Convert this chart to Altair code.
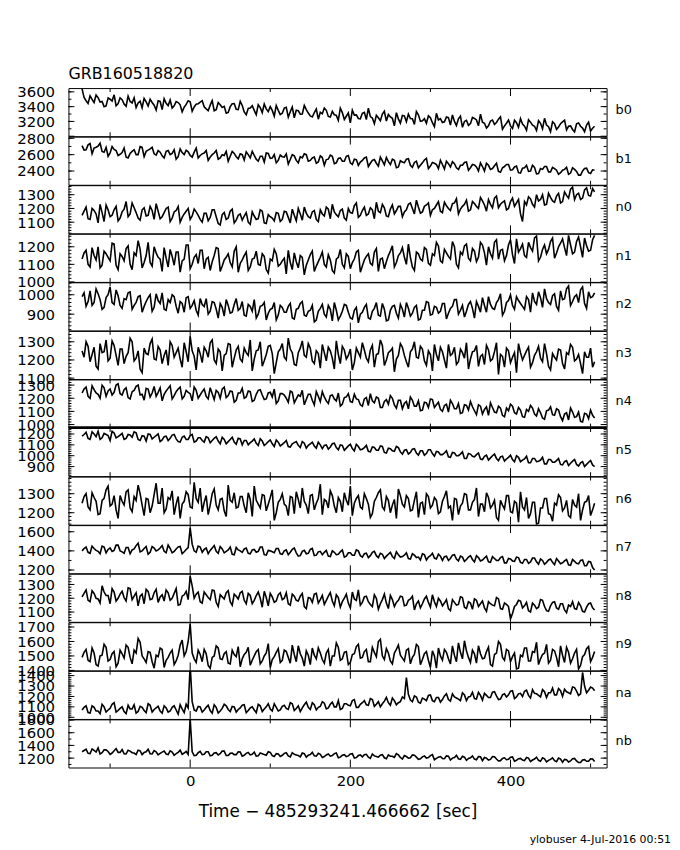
import altair as alt
import pandas as pd

FONT = "DejaVu Sans"
T_START = -135
T_STEP = 5
X_DOMAIN = [-152, 520]
X_LABELS = [0, 200, 400]
X_MINOR = [-100, 100, 300, 500]

DETECTORS = ["b0", "b1", "n0", "n1", "n2", "n3", "n4", "n5", "n6", "n7", "n8", "n9", "na", "nb"]

# samples at t = -135, -130, ..., 505
B0 = [3640, 3480, 3545, 3455, 3520, 3470, 3410, 3500, 3560, 3440,
      3495, 3405, 3470, 3520, 3450, 3385, 3465, 3500, 3420, 3480,
      3360, 3445, 3490, 3410, 3455, 3330, 3430, 3465, 3395, 3440,
      3480, 3370, 3420, 3345, 3455, 3390, 3310, 3400, 3440, 3360,
      3415, 3290, 3380, 3350, 3425, 3320, 3370, 3400, 3270, 3350,
      3310, 3390, 3330, 3250, 3345, 3300, 3360, 3275, 3320, 3230,
      3305, 3350, 3260, 3290, 3215, 3320, 3270, 3180, 3285, 3240,
      3310, 3225, 3265, 3170, 3250, 3300, 3205, 3260, 3140, 3235,
      3280, 3195, 3240, 3160, 3290, 3210, 3175, 3250, 3130, 3220,
      3185, 3260, 3150, 3200, 3235, 3120, 3215, 3170, 3240, 3140,
      3190, 3110, 3205, 3160, 3230, 3095, 3175, 3140, 3215, 3120,
      3165, 3080, 3190, 3135, 3210, 3100, 3150, 3060, 3170, 3125,
      3195, 3085, 3140, 3060, 3180, 3110, 3150, 3070, 3135]
B1 = [2710, 2660, 2735, 2680, 2705, 2640, 2690, 2620, 2665, 2590,
      2625, 2570, 2615, 2660, 2600, 2690, 2640, 2670, 2610, 2650,
      2585, 2640, 2600, 2660, 2575, 2625, 2655, 2590, 2630, 2560,
      2610, 2650, 2570, 2620, 2545, 2600, 2640, 2580, 2615, 2550,
      2600, 2635, 2560, 2590, 2520, 2580, 2620, 2555, 2600, 2530,
      2575, 2610, 2540, 2585, 2500, 2560, 2600, 2530, 2570, 2510,
      2565, 2540, 2595, 2490, 2555, 2520, 2580, 2500, 2545, 2470,
      2530, 2570, 2495, 2540, 2460, 2525, 2565, 2480, 2530, 2450,
      2510, 2545, 2470, 2505, 2440, 2500, 2555, 2460, 2495, 2430,
      2480, 2520, 2450, 2490, 2420, 2470, 2510, 2440, 2475, 2400,
      2455, 2495, 2420, 2465, 2395, 2440, 2480, 2410, 2450, 2380,
      2435, 2470, 2400, 2445, 2370, 2420, 2455, 2390, 2430, 2360,
      2410, 2445, 2375, 2420, 2350, 2400, 2435, 2370, 2410]
N0 = [1150, 1210, 1120, 1185, 1095, 1170, 1225, 1140, 1190, 1110,
      1175, 1250, 1160, 1205, 1130, 1190, 1145, 1215, 1120, 1180,
      1140, 1200, 1105, 1175, 1215, 1135, 1180, 1120, 1195, 1150,
      1100, 1165, 1135, 1190, 1090, 1155, 1120, 1180, 1095, 1150,
      1115, 1170, 1085, 1145, 1125, 1180, 1090, 1140, 1110, 1165,
      1120, 1175, 1095, 1150, 1200, 1115, 1165, 1130, 1185, 1105,
      1160, 1210, 1125, 1175, 1140, 1195, 1115, 1170, 1220, 1135,
      1185, 1150, 1205, 1125, 1180, 1230, 1145, 1195, 1160, 1215,
      1140, 1190, 1240, 1160, 1210, 1175, 1225, 1150, 1200, 1250,
      1170, 1220, 1185, 1240, 1160, 1215, 1260, 1190, 1235, 1200,
      1255, 1180, 1230, 1275, 1205, 1245, 1190, 1250, 1215, 1265,
      1105, 1225, 1270, 1210, 1255, 1300, 1230, 1280, 1245, 1310,
      1250, 1295, 1340, 1265, 1310, 1275, 1350, 1290, 1320]
N1 = [1130, 1180, 1085, 1150, 1200, 1095, 1160, 1120, 1215, 1070,
      1145, 1190, 1100, 1165, 1235, 1080, 1150, 1110, 1200, 1140,
      1060, 1135, 1185, 1095, 1170, 1120, 1210, 1075, 1140, 1105,
      1180, 1130, 1065, 1150, 1190, 1090, 1140, 1110, 1175, 1055,
      1125, 1170, 1085, 1135, 1100, 1160, 1070, 1130, 1185, 1090,
      1120, 1045, 1110, 1165, 1080, 1140, 1095, 1155, 1060, 1115,
      1170, 1085, 1125, 1050, 1140, 1100, 1160, 1075, 1130, 1180,
      1090, 1145, 1105, 1170, 1060, 1135, 1115, 1175, 1085, 1150,
      1195, 1100, 1140, 1065, 1160, 1120, 1185, 1095, 1150, 1205,
      1110, 1165, 1130, 1200, 1080, 1155, 1215, 1120, 1175, 1140,
      1210, 1095, 1160, 1225, 1130, 1185, 1150, 1240, 1105, 1170,
      1215, 1140, 1195, 1250, 1120, 1185, 1160, 1230, 1135, 1200,
      1245, 1150, 1210, 1170, 1255, 1140, 1205, 1180, 1265]
N2 = [990, 940, 1020, 960, 1005, 925, 985, 1040, 950, 995,
      930, 975, 1015, 945, 990, 910, 965, 1000, 935, 970,
      1010, 920, 960, 990, 905, 955, 985, 930, 970, 895,
      950, 980, 915, 960, 880, 935, 975, 905, 950, 920,
      965, 890, 940, 975, 900, 945, 870, 925, 960, 895,
      935, 910, 955, 875, 930, 965, 890, 920, 860, 915,
      950, 885, 925, 960, 870, 915, 945, 880, 920, 855,
      910, 950, 875, 930, 895, 955, 865, 920, 945, 880,
      925, 960, 890, 935, 870, 920, 965, 895, 940, 905,
      955, 875, 930, 975, 900, 945, 915, 965, 880, 940,
      985, 910, 950, 925, 975, 895, 960, 1000, 925, 970,
      940, 990, 910, 965, 1015, 935, 980, 950, 1005, 920,
      975, 1030, 945, 990, 960, 1040, 930, 985, 1010]
N3 = [1250, 1300, 1190, 1270, 1150, 1240, 1310, 1210, 1280, 1170,
      1260, 1220, 1320, 1195, 1250, 1130, 1235, 1290, 1205, 1275,
      1180, 1255, 1300, 1215, 1265, 1160, 1245, 1330, 1220, 1270,
      1185, 1250, 1295, 1200, 1260, 1140, 1235, 1285, 1210, 1275,
      1190, 1240, 1310, 1205, 1255, 1165, 1230, 1280, 1125, 1245,
      1290, 1200, 1260, 1175, 1240, 1305, 1215, 1265, 1180, 1235,
      1285, 1195, 1250, 1150, 1230, 1275, 1205, 1260, 1185, 1240,
      1295, 1210, 1255, 1160, 1235, 1280, 1200, 1250, 1135, 1225,
      1270, 1190, 1245, 1300, 1210, 1260, 1170, 1230, 1285, 1195,
      1245, 1155, 1225, 1270, 1190, 1240, 1295, 1205, 1250, 1165,
      1230, 1280, 1195, 1245, 1120, 1220, 1265, 1185, 1240, 1290,
      1200, 1250, 1160, 1225, 1275, 1190, 1235, 1145, 1215, 1260,
      1180, 1240, 1285, 1195, 1230, 1125, 1215, 1265, 1190]
N4 = [1240, 1285, 1200, 1265, 1230, 1300, 1215, 1270, 1245, 1310,
      1225, 1280, 1195, 1260, 1300, 1230, 1275, 1210, 1290, 1245,
      1180, 1255, 1295, 1220, 1270, 1195, 1260, 1235, 1285, 1200,
      1250, 1215, 1280, 1190, 1245, 1270, 1205, 1255, 1170, 1240,
      1275, 1210, 1250, 1185, 1260, 1225, 1195, 1245, 1270, 1180,
      1235, 1200, 1255, 1165, 1225, 1260, 1190, 1230, 1150, 1215,
      1250, 1180, 1220, 1195, 1240, 1155, 1210, 1175, 1230, 1190,
      1140, 1205, 1235, 1165, 1200, 1130, 1190, 1220, 1150, 1185,
      1120, 1175, 1210, 1140, 1180, 1110, 1165, 1195, 1130, 1170,
      1100, 1155, 1185, 1120, 1160, 1090, 1145, 1175, 1105, 1150,
      1080, 1135, 1165, 1095, 1140, 1070, 1125, 1155, 1090, 1130,
      1060, 1115, 1145, 1080, 1120, 1050, 1105, 1135, 1070, 1110,
      1030, 1090, 1125, 1055, 1095, 1020, 1080, 1110, 1050]
N5 = [1180, 1215, 1150, 1200, 1225, 1165, 1195, 1140, 1210, 1175,
      1205, 1160, 1190, 1220, 1150, 1185, 1135, 1195, 1170, 1200,
      1145, 1180, 1160, 1195, 1130, 1170, 1150, 1185, 1125, 1165,
      1140, 1175, 1120, 1160, 1135, 1170, 1110, 1150, 1125, 1160,
      1100, 1140, 1120, 1155, 1095, 1135, 1110, 1145, 1085, 1125,
      1105, 1140, 1080, 1120, 1095, 1130, 1070, 1110, 1090, 1125,
      1065, 1100, 1080, 1115, 1055, 1095, 1070, 1105, 1045, 1085,
      1060, 1095, 1035, 1075, 1050, 1085, 1025, 1065, 1040, 1075,
      1015, 1055, 1030, 1065, 1005, 1045, 1020, 1055, 995, 1035,
      1010, 1045, 985, 1025, 1000, 1035, 975, 1015, 990, 1025,
      965, 1005, 980, 1015, 955, 995, 970, 1005, 945, 985,
      960, 995, 935, 975, 950, 985, 925, 965, 940, 975,
      915, 955, 930, 965, 905, 945, 920, 955, 900]
N6 = [1250, 1300, 1215, 1280, 1190, 1265, 1320, 1235, 1290, 1170,
      1260, 1310, 1225, 1285, 1345, 1240, 1275, 1200, 1295, 1250,
      1330, 1220, 1270, 1190, 1285, 1245, 1310, 1230, 1360, 1255,
      1205, 1290, 1240, 1325, 1215, 1275, 1180, 1265, 1305, 1230,
      1285, 1200, 1270, 1340, 1245, 1295, 1210, 1280, 1160, 1255,
      1300, 1235, 1285, 1195, 1270, 1330, 1240, 1290, 1215, 1275,
      1190, 1260, 1315, 1235, 1280, 1205, 1265, 1340, 1250, 1290,
      1220, 1275, 1175, 1260, 1305, 1230, 1285, 1200, 1270, 1325,
      1245, 1290, 1210, 1265, 1175, 1255, 1300, 1225, 1280, 1195,
      1260, 1315, 1235, 1275, 1190, 1250, 1295, 1215, 1270, 1180,
      1245, 1305, 1225, 1265, 1160, 1240, 1290, 1205, 1260, 1150,
      1230, 1280, 1195, 1255, 1145, 1225, 1275, 1190, 1250, 1295,
      1210, 1265, 1175, 1240, 1300, 1215, 1260, 1185, 1250]
N7 = [1400, 1440, 1375, 1425, 1395, 1450, 1380, 1430, 1405, 1460,
      1390, 1435, 1370, 1420, 1480, 1400, 1445, 1385, 1430, 1410,
      1455, 1380, 1425, 1395, 1440, 1370, 1415, 1640, 1400, 1450,
      1385, 1430, 1405, 1455, 1375, 1420, 1395, 1440, 1360, 1410,
      1385, 1430, 1370, 1415, 1395, 1440, 1355, 1400, 1380, 1425,
      1365, 1410, 1385, 1430, 1345, 1395, 1370, 1415, 1350, 1390,
      1360, 1405, 1340, 1385, 1365, 1410, 1345, 1380, 1355, 1400,
      1335, 1375, 1350, 1395, 1330, 1365, 1345, 1385, 1320, 1360,
      1340, 1380, 1315, 1355, 1335, 1370, 1305, 1350, 1325, 1365,
      1300, 1345, 1320, 1360, 1295, 1335, 1310, 1350, 1285, 1330,
      1305, 1345, 1280, 1320, 1300, 1340, 1275, 1315, 1290, 1330,
      1270, 1310, 1285, 1325, 1260, 1300, 1280, 1315, 1255, 1295,
      1275, 1310, 1250, 1290, 1265, 1305, 1245, 1285, 1200]
N8 = [1210, 1260, 1175, 1235, 1195, 1290, 1220, 1160, 1245, 1200,
      1250, 1180, 1270, 1215, 1145, 1230, 1265, 1190, 1240, 1170,
      1225, 1260, 1185, 1235, 1150, 1215, 1250, 1360, 1200, 1245,
      1165, 1225, 1190, 1255, 1140, 1210, 1240, 1175, 1230, 1195,
      1250, 1160, 1220, 1185, 1245, 1135, 1205, 1235, 1170, 1225,
      1190, 1240, 1150, 1215, 1180, 1235, 1125, 1200, 1230, 1165,
      1220, 1185, 1240, 1145, 1205, 1175, 1230, 1130, 1195, 1260,
      1170, 1215, 1155, 1225, 1120, 1190, 1165, 1220, 1140, 1185,
      1210, 1150, 1195, 1115, 1180, 1160, 1215, 1135, 1175, 1200,
      1145, 1190, 1110, 1170, 1155, 1205, 1125, 1165, 1195, 1140,
      1180, 1105, 1160, 1145, 1195, 1120, 1155, 1050, 1140, 1185,
      1130, 1170, 1100, 1150, 1135, 1185, 1110, 1145, 1175, 1120,
      1160, 1095, 1140, 1125, 1170, 1105, 1135, 1165, 1115]
N9 = [1490, 1545, 1460, 1520, 1430, 1505, 1560, 1475, 1530, 1450,
      1515, 1575, 1490, 1540, 1620, 1500, 1455, 1525, 1415, 1495,
      1545, 1470, 1520, 1440, 1505, 1610, 1530, 1720, 1480, 1540,
      1460, 1515, 1415, 1500, 1555, 1475, 1530, 1445, 1510, 1565,
      1480, 1525, 1435, 1500, 1545, 1465, 1520, 1420, 1495, 1550,
      1470, 1530, 1450, 1510, 1570, 1485, 1535, 1440, 1505, 1555,
      1475, 1520, 1430, 1500, 1560, 1480, 1530, 1455, 1515, 1580,
      1490, 1545, 1460, 1525, 1600, 1500, 1550, 1465, 1520, 1575,
      1485, 1540, 1445, 1510, 1565, 1475, 1530, 1420, 1500, 1555,
      1470, 1525, 1445, 1505, 1590, 1480, 1535, 1455, 1515, 1570,
      1480, 1530, 1440, 1510, 1600, 1490, 1545, 1460, 1520, 1415,
      1495, 1555, 1465, 1525, 1440, 1510, 1580, 1470, 1535, 1425,
      1505, 1560, 1450, 1520, 1410, 1495, 1550, 1460, 1530]
NA = [1070, 1110, 1040, 1095, 1060, 1125, 1050, 1085, 1140, 1065,
      1100, 1035, 1080, 1120, 1055, 1095, 1045, 1115, 1075, 1105,
      1040, 1090, 1060, 1110, 1030, 1080, 1125, 1500, 1070, 1105,
      1050, 1095, 1065, 1120, 1040, 1085, 1110, 1055, 1100, 1075,
      1115, 1045, 1090, 1070, 1125, 1055, 1100, 1080, 1130, 1060,
      1105, 1085, 1140, 1065, 1110, 1090, 1145, 1075, 1120, 1095,
      1150, 1080, 1125, 1100, 1160, 1085, 1130, 1110, 1170, 1095,
      1140, 1120, 1180, 1105, 1150, 1130, 1190, 1115, 1160, 1140,
      1195, 1380, 1165, 1205, 1145, 1185, 1160, 1215, 1150, 1190,
      1170, 1225, 1155, 1195, 1175, 1235, 1160, 1200, 1180, 1240,
      1165, 1210, 1190, 1245, 1170, 1215, 1195, 1250, 1180, 1225,
      1200, 1260, 1185, 1230, 1210, 1265, 1190, 1235, 1215, 1275,
      1200, 1245, 1225, 1285, 1210, 1430, 1235, 1290, 1255]
NB = [1300, 1340, 1270, 1320, 1360, 1285, 1330, 1260, 1315, 1290,
      1335, 1265, 1310, 1280, 1325, 1255, 1300, 1270, 1320, 1250,
      1295, 1265, 1315, 1245, 1290, 1260, 1305, 1820, 1240, 1285,
      1255, 1300, 1235, 1280, 1250, 1310, 1240, 1275, 1255, 1300,
      1230, 1275, 1250, 1295, 1235, 1270, 1245, 1290, 1225, 1265,
      1245, 1285, 1220, 1260, 1240, 1280, 1215, 1255, 1235, 1275,
      1210, 1250, 1230, 1270, 1205, 1245, 1225, 1265, 1200, 1240,
      1220, 1260, 1195, 1235, 1215, 1255, 1190, 1230, 1210, 1250,
      1185, 1225, 1205, 1245, 1180, 1220, 1200, 1240, 1175, 1215,
      1195, 1235, 1170, 1210, 1190, 1230, 1165, 1205, 1185, 1225,
      1160, 1200, 1180, 1220, 1155, 1195, 1175, 1215, 1150, 1190,
      1170, 1210, 1145, 1185, 1165, 1205, 1140, 1180, 1160, 1200,
      1135, 1175, 1155, 1195, 1130, 1170, 1150, 1190, 1145]

# samples in between, at t = -132.5, -127.5, ..., 502.5
B0_MID = [3525, 3442, 3499, 3556, 3463, 3400, 3518, 3475, 3412, 3519,
          3436, 3543, 3450, 3387, 3474, 3512, 3409, 3456, 3353, 3470,
          3507, 3414, 3381, 3468, 3425, 3392, 3480, 3337, 3434, 3461,
          3398, 3345, 3482, 3359, 3426, 3404, 3321, 3438, 3365, 3472,
          3329, 3376, 3413, 3290, 3387, 3434, 3332, 3349, 3416, 3293,
          3380, 3257, 3394, 3351, 3298, 3416, 3313, 3260, 3367, 3324,
          3381, 3268, 3335, 3282, 3379, 3226, 3314, 3351, 3288, 3235,
          3322, 3379, 3246, 3283, 3210, 3338, 3295, 3242, 3319, 3176,
          3273, 3300, 3237, 3334, 3201, 3238, 3276, 3183, 3310, 3237,
          3194, 3251, 3288, 3145, 3272, 3200, 3147, 3254, 3221, 3298,
          3175, 3142, 3219, 3186, 3263, 3140, 3218, 3105, 3182, 3239,
          3136, 3223, 3150, 3077, 3174, 3242, 3129, 3196, 3093, 3170,
          3217, 3134, 3091, 3168, 3135, 3062, 3190, 3107]
B1_MID = [2655, 2720, 2610, 2690, 2740, 2630, 2580, 2700, 2650, 2605,
          2680, 2560, 2640, 2600, 2700, 2575, 2655, 2690, 2595, 2630,
          2560, 2650, 2615, 2545, 2670, 2600, 2635, 2570, 2680, 2590,
          2620, 2530, 2600, 2650, 2560, 2590, 2520, 2640, 2575, 2610,
          2535, 2600, 2640, 2545, 2580, 2510, 2615, 2560, 2500, 2595,
          2570, 2485, 2600, 2530, 2575, 2610, 2520, 2560, 2495, 2585,
          2470, 2545, 2580, 2500, 2560, 2520, 2590, 2480, 2540, 2510,
          2560, 2455, 2530, 2495, 2570, 2475, 2515, 2545, 2440, 2525,
          2500, 2550, 2445, 2520, 2470, 2535, 2430, 2505, 2480, 2530,
          2425, 2490, 2515, 2440, 2470, 2505, 2410, 2480, 2450, 2500,
          2400, 2470, 2430, 2495, 2385, 2455, 2480, 2415, 2460, 2375,
          2440, 2395, 2470, 2365, 2430, 2455, 2390, 2445, 2410, 2380,
          2420, 2360, 2440, 2395, 2350, 2430, 2380, 2415]
N0_MID = [1180, 1125, 1200, 1160, 1230, 1105, 1190, 1150, 1215, 1130,
          1195, 1140, 1240, 1170, 1115, 1205, 1150, 1185, 1235, 1125,
          1170, 1210, 1130, 1185, 1100, 1160, 1200, 1145, 1175, 1120,
          1165, 1110, 1190, 1140, 1080, 1170, 1130, 1195, 1115, 1160,
          1145, 1100, 1175, 1120, 1190, 1095, 1155, 1130, 1170, 1105,
          1180, 1135, 1195, 1110, 1160, 1210, 1140, 1175, 1120, 1190,
          1145, 1195, 1230, 1155, 1185, 1130, 1200, 1165, 1240, 1150,
          1210, 1160, 1190, 1245, 1170, 1205, 1140, 1225, 1185, 1215,
          1175, 1230, 1200, 1260, 1165, 1215, 1240, 1190, 1225, 1180,
          1245, 1200, 1235, 1270, 1195, 1230, 1180, 1250, 1215, 1280,
          1225, 1265, 1205, 1290, 1230, 1255, 1200, 1275, 1240, 1160,
          1250, 1285, 1230, 1300, 1265, 1225, 1310, 1255, 1290, 1240,
          1320, 1275, 1355, 1300, 1265, 1335, 1295, 1345]
N1_MID = [1165, 1100, 1195, 1125, 1080, 1175, 1140, 1220, 1095, 1160,
          1120, 1205, 1070, 1150, 1185, 1110, 1225, 1090, 1165, 1130,
          1195, 1085, 1145, 1170, 1055, 1130, 1210, 1100, 1155, 1180,
          1075, 1140, 1115, 1195, 1060, 1125, 1160, 1085, 1200, 1105,
          1150, 1065, 1130, 1175, 1095, 1145, 1050, 1120, 1160, 1100,
          1135, 1180, 1070, 1115, 1150, 1040, 1125, 1175, 1090, 1140,
          1100, 1155, 1065, 1130, 1185, 1080, 1145, 1110, 1170, 1055,
          1125, 1160, 1095, 1190, 1130, 1075, 1150, 1205, 1110, 1165,
          1140, 1215, 1085, 1170, 1130, 1195, 1105, 1160, 1225, 1120,
          1185, 1145, 1230, 1100, 1170, 1205, 1135, 1190, 1115, 1225,
          1165, 1200, 1135, 1240, 1180, 1120, 1210, 1155, 1245, 1190,
          1150, 1225, 1175, 1260, 1140, 1210, 1185, 1250, 1165, 1220,
          1195, 1265, 1160, 1230, 1200, 1250, 1175, 1240]
N2_MID = [1010, 965, 945, 1030, 975, 935, 1000, 960, 1025, 945,
          980, 1010, 925, 960, 995, 940, 985, 915, 1005, 955,
          925, 975, 1000, 940, 965, 910, 990, 945, 920, 980,
          940, 900, 965, 925, 955, 890, 945, 910, 980, 930,
          895, 950, 915, 880, 940, 960, 905, 930, 870, 945,
          910, 940, 880, 925, 955, 895, 915, 945, 870, 930,
          900, 945, 865, 920, 890, 950, 910, 875, 935, 900,
          935, 880, 915, 960, 890, 925, 870, 940, 905, 950,
          885, 930, 905, 945, 875, 920, 960, 900, 935, 915,
          955, 905, 940, 975, 920, 885, 950, 930, 965, 910,
          945, 990, 930, 960, 1005, 915, 970, 945, 990, 955,
          925, 975, 1010, 950, 985, 1030, 960, 995, 940, 1020,
          980, 1045, 965, 1000, 1025, 955, 1015, 990]
N3_MID = [1215, 1275, 1230, 1165, 1290, 1245, 1195, 1305, 1225, 1260,
          1180, 1240, 1300, 1210, 1150, 1265, 1230, 1315, 1200, 1255,
          1225, 1170, 1280, 1240, 1205, 1295, 1190, 1250, 1145, 1235,
          1270, 1215, 1310, 1180, 1245, 1225, 1290, 1160, 1255, 1205,
          1265, 1225, 1140, 1250, 1300, 1195, 1275, 1235, 1185, 1260,
          1215, 1320, 1240, 1170, 1265, 1225, 1290, 1195, 1250, 1155,
          1240, 1270, 1210, 1305, 1180, 1255, 1225, 1145, 1265, 1215,
          1255, 1190, 1280, 1230, 1310, 1170, 1240, 1265, 1205, 1290,
          1225, 1160, 1260, 1215, 1275, 1195, 1250, 1140, 1230, 1270,
          1200, 1285, 1235, 1175, 1260, 1210, 1150, 1245, 1280, 1220,
          1175, 1255, 1205, 1295, 1230, 1160, 1250, 1215, 1130, 1240,
          1225, 1270, 1185, 1245, 1210, 1290, 1165, 1235, 1200, 1255,
          1150, 1230, 1270, 1205, 1180, 1245, 1215, 1160]
N4_MID = [1270, 1215, 1295, 1240, 1200, 1280, 1255, 1225, 1300, 1235,
          1265, 1205, 1250, 1290, 1225, 1185, 1270, 1240, 1215, 1280,
          1230, 1275, 1195, 1250, 1285, 1215, 1245, 1180, 1260, 1225,
          1270, 1195, 1235, 1260, 1200, 1285, 1220, 1250, 1185, 1240,
          1200, 1255, 1175, 1230, 1265, 1190, 1240, 1210, 1160, 1235,
          1225, 1170, 1245, 1195, 1215, 1150, 1230, 1185, 1250, 1175,
          1210, 1160, 1225, 1180, 1140, 1205, 1235, 1170, 1195, 1150,
          1195, 1145, 1180, 1210, 1130, 1175, 1155, 1200, 1125, 1185,
          1160, 1120, 1185, 1140, 1105, 1170, 1130, 1190, 1150, 1115,
          1145, 1095, 1160, 1120, 1085, 1150, 1110, 1135, 1075, 1140,
          1115, 1070, 1130, 1090, 1125, 1060, 1105, 1140, 1080, 1110,
          1055, 1100, 1125, 1065, 1090, 1040, 1110, 1075, 1120, 1060,
          1080, 1035, 1095, 1060, 1025, 1085, 1045, 1070]
N5_MID = [1195, 1160, 1220, 1175, 1150, 1205, 1185, 1225, 1165, 1190,
          1150, 1195, 1170, 1210, 1140, 1180, 1200, 1155, 1185, 1130,
          1175, 1140, 1190, 1155, 1125, 1180, 1150, 1195, 1135, 1165,
          1125, 1165, 1140, 1175, 1110, 1150, 1130, 1170, 1105, 1155,
          1140, 1100, 1135, 1115, 1155, 1095, 1130, 1110, 1145, 1090,
          1120, 1085, 1110, 1130, 1075, 1115, 1095, 1125, 1070, 1100,
          1095, 1060, 1110, 1075, 1100, 1050, 1090, 1065, 1105, 1055,
          1075, 1040, 1080, 1050, 1090, 1030, 1070, 1045, 1085, 1035,
          1050, 1015, 1060, 1025, 1045, 1005, 1055, 1020, 1040, 1010,
          1025, 990, 1030, 1000, 1015, 975, 1020, 995, 1010, 970,
          995, 960, 1000, 975, 990, 950, 985, 965, 1000, 945,
          970, 935, 975, 945, 960, 925, 965, 940, 955, 920,
          945, 910, 950, 920, 935, 900, 940, 915]
N6_MID = [1285, 1230, 1305, 1260, 1195, 1275, 1340, 1245, 1215, 1290,
          1240, 1320, 1205, 1265, 1300, 1185, 1270, 1235, 1355, 1250,
          1200, 1280, 1315, 1245, 1170, 1260, 1295, 1225, 1275, 1330,
          1255, 1190, 1300, 1240, 1270, 1210, 1345, 1255, 1225, 1285,
          1235, 1305, 1180, 1265, 1225, 1290, 1245, 1320, 1200, 1270,
          1245, 1185, 1280, 1310, 1225, 1260, 1195, 1295, 1250, 1350,
          1270, 1225, 1290, 1200, 1260, 1305, 1240, 1185, 1275, 1230,
          1300, 1245, 1195, 1280, 1320, 1215, 1265, 1240, 1170, 1290,
          1230, 1275, 1215, 1310, 1250, 1190, 1285, 1240, 1265, 1205,
          1285, 1225, 1160, 1270, 1235, 1300, 1215, 1255, 1330, 1245,
          1205, 1280, 1240, 1175, 1265, 1220, 1290, 1200, 1250, 1310,
          1215, 1170, 1255, 1140, 1225, 1275, 1195, 1155, 1240, 1280,
          1225, 1185, 1270, 1230, 1160, 1255, 1290, 1215]
N7_MID = [1425, 1385, 1450, 1405, 1370, 1440, 1415, 1395, 1460, 1400,
          1375, 1435, 1410, 1455, 1390, 1425, 1365, 1445, 1400, 1430,
          1395, 1460, 1380, 1420, 1445, 1390, 1435, 1470, 1385, 1440,
          1415, 1370, 1430, 1395, 1445, 1380, 1410, 1365, 1435, 1400,
          1420, 1375, 1410, 1385, 1440, 1360, 1405, 1390, 1425, 1370,
          1400, 1360, 1415, 1380, 1350, 1405, 1375, 1425, 1355, 1395,
          1385, 1345, 1400, 1360, 1390, 1335, 1380, 1355, 1410, 1350,
          1370, 1330, 1385, 1350, 1375, 1320, 1365, 1340, 1390, 1335,
          1355, 1320, 1370, 1330, 1305, 1360, 1335, 1375, 1315, 1345,
          1340, 1300, 1355, 1315, 1345, 1290, 1335, 1310, 1350, 1295,
          1325, 1285, 1340, 1300, 1330, 1275, 1320, 1295, 1335, 1280,
          1310, 1270, 1325, 1285, 1315, 1260, 1305, 1280, 1320, 1265,
          1295, 1255, 1310, 1270, 1300, 1245, 1290, 1225]
N8_MID = [1235, 1185, 1255, 1200, 1165, 1245, 1220, 1270, 1180, 1230,
          1205, 1275, 1190, 1240, 1215, 1160, 1250, 1195, 1265, 1210,
          1180, 1240, 1200, 1270, 1155, 1225, 1190, 1290, 1230, 1175,
          1245, 1205, 1260, 1170, 1225, 1195, 1255, 1150, 1215, 1240,
          1185, 1235, 1160, 1220, 1200, 1250, 1145, 1210, 1180, 1240,
          1200, 1160, 1230, 1185, 1215, 1140, 1205, 1170, 1235, 1190,
          1155, 1215, 1180, 1225, 1135, 1200, 1165, 1245, 1185, 1150,
          1210, 1175, 1140, 1200, 1160, 1230, 1125, 1190, 1170, 1215,
          1145, 1185, 1215, 1160, 1130, 1195, 1170, 1225, 1140, 1180,
          1165, 1125, 1190, 1150, 1210, 1135, 1175, 1120, 1185, 1160,
          1130, 1175, 1150, 1205, 1125, 1165, 1140, 1090, 1155, 1180,
          1145, 1110, 1165, 1125, 1190, 1140, 1105, 1170, 1130, 1160,
          1115, 1150, 1175, 1120, 1145, 1100, 1160, 1130]
N9_MID = [1525, 1470, 1555, 1440, 1500, 1580, 1465, 1515, 1425, 1540,
          1485, 1560, 1445, 1520, 1595, 1480, 1530, 1460, 1505, 1555,
          1420, 1490, 1540, 1465, 1575, 1500, 1600, 1520, 1455, 1510,
          1545, 1435, 1490, 1570, 1480, 1515, 1450, 1540, 1495, 1425,
          1510, 1560, 1470, 1530, 1445, 1500, 1585, 1475, 1525, 1455,
          1540, 1490, 1575, 1460, 1515, 1430, 1505, 1555, 1480, 1520,
          1450, 1545, 1500, 1590, 1470, 1525, 1440, 1510, 1565, 1485,
          1530, 1460, 1560, 1495, 1615, 1475, 1520, 1445, 1545, 1505,
          1465, 1550, 1490, 1580, 1440, 1515, 1470, 1535, 1415, 1500,
          1545, 1480, 1570, 1460, 1525, 1605, 1490, 1540, 1450, 1515,
          1485, 1560, 1430, 1520, 1580, 1470, 1535, 1495, 1410, 1505,
          1555, 1465, 1530, 1595, 1480, 1520, 1450, 1545, 1490, 1570,
          1455, 1525, 1480, 1545, 1435, 1510, 1565, 1490]
NA_MID = [1095, 1045, 1110, 1060, 1035, 1100, 1070, 1125, 1050, 1085,
          1055, 1115, 1080, 1040, 1105, 1065, 1130, 1050, 1090, 1060,
          1110, 1050, 1095, 1070, 1120, 1045, 1090, 1150, 1060, 1100,
          1070, 1115, 1040, 1095, 1060, 1125, 1075, 1105, 1050, 1090,
          1120, 1065, 1100, 1045, 1110, 1080, 1130, 1060, 1095, 1070,
          1115, 1075, 1130, 1085, 1055, 1120, 1095, 1140, 1070, 1105,
          1135, 1090, 1145, 1100, 1075, 1130, 1115, 1160, 1095, 1125,
          1160, 1115, 1170, 1125, 1100, 1155, 1140, 1185, 1120, 1150,
          1180, 1220, 1150, 1195, 1135, 1175, 1210, 1160, 1190, 1145,
          1205, 1170, 1225, 1185, 1160, 1215, 1195, 1240, 1175, 1210,
          1230, 1190, 1240, 1205, 1175, 1225, 1215, 1255, 1195, 1230,
          1250, 1210, 1265, 1225, 1195, 1245, 1235, 1280, 1215, 1255,
          1270, 1235, 1290, 1250, 1225, 1300, 1260, 1280]
NB_MID = [1320, 1275, 1345, 1295, 1265, 1330, 1305, 1280, 1350, 1290,
          1270, 1325, 1285, 1255, 1315, 1290, 1340, 1265, 1300, 1275,
          1310, 1255, 1295, 1270, 1325, 1280, 1260, 1300, 1245, 1305,
          1260, 1300, 1245, 1285, 1270, 1310, 1240, 1280, 1255, 1295,
          1245, 1290, 1260, 1230, 1280, 1255, 1300, 1240, 1270, 1225,
          1275, 1235, 1285, 1250, 1220, 1270, 1245, 1290, 1230, 1260,
          1225, 1265, 1240, 1280, 1215, 1255, 1235, 1270, 1210, 1250,
          1255, 1215, 1265, 1225, 1245, 1205, 1250, 1230, 1270, 1210,
          1240, 1200, 1250, 1215, 1190, 1235, 1210, 1255, 1195, 1225,
          1190, 1230, 1200, 1245, 1180, 1215, 1195, 1235, 1175, 1220,
          1210, 1170, 1225, 1185, 1160, 1205, 1180, 1220, 1165, 1195,
          1160, 1200, 1170, 1215, 1150, 1190, 1165, 1205, 1145, 1185,
          1180, 1140, 1190, 1155, 1130, 1175, 1150, 1185]

VALUES = {"b0": (B0, B0_MID), "b1": (B1, B1_MID), "n0": (N0, N0_MID), "n1": (N1, N1_MID),
          "n2": (N2, N2_MID), "n3": (N3, N3_MID), "n4": (N4, N4_MID), "n5": (N5, N5_MID),
          "n6": (N6, N6_MID), "n7": (N7, N7_MID), "n8": (N8, N8_MID), "n9": (N9, N9_MID),
          "na": (NA, NA_MID), "nb": (NB, NB_MID)}

Y_DOMAINS = {"b0": [3000, 3651], "b1": [2232, 2820], "n0": [1019, 1369],
             "n1": [1000, 1274], "n2": [816, 1064], "n3": [1095, 1360],
             "n4": [977, 1343], "n5": [812, 1255], "n6": [1137, 1390],
             "n7": [1166, 1669], "n8": [1029, 1378], "n9": [1400, 1733],
             "na": [984, 1446], "nb": [1052, 1810]}
Y_LABELS = {"b0": [3200, 3400, 3600], "b1": [2400, 2600, 2800],
            "n0": [1100, 1200, 1300], "n1": [1000, 1100, 1200], "n2": [900, 1000],
            "n3": [1100, 1200, 1300], "n4": [1000, 1100, 1200, 1300],
            "n5": [900, 1000, 1100, 1200], "n6": [1200, 1300],
            "n7": [1200, 1400, 1600], "n8": [1100, 1200, 1300],
            "n9": [1400, 1500, 1600, 1700], "na": [1000, 1100, 1200, 1300, 1400],
            "nb": [1200, 1400, 1600, 1800]}
Y_MAJOR_STEP = {"b0": 200, "b1": 200, "n0": 100, "n1": 100, "n2": 100, "n3": 100,
                "n4": 100, "n5": 100, "n6": 100, "n7": 200, "n8": 100, "n9": 100,
                "na": 100, "nb": 200}
Y_MINOR_STEP = {"b0": 100, "b1": 100, "n0": 20, "n1": 20, "n2": 20, "n3": 20,
                "n4": 20, "n5": 20, "n6": 20, "n7": 100, "n8": 20, "n9": 20,
                "na": 20, "nb": 100}

TITLE = "GRB160518820"
X_TITLE = "Time \u2212 485293241.466662 [sec]"
FOOTER = "ylobuser  4-Jul-2016 00:51"

W = 543
H = 48.57
MAJ = 6
MIN = 3
XMAJ = 8
XMIN = 4


def steps(lo, hi, step):
    start = (int(lo) // step + 1) * step
    return [v for v in range(start, int(hi), step)]


def panel(i, name):
    main, mid = VALUES[name]
    ts = [T_START + T_STEP * k for k in range(len(main))] + \
         [T_START + T_STEP / 2 + T_STEP * k for k in range(len(mid))]
    df = pd.DataFrame({"t": ts, "v": list(main) + list(mid)}).sort_values("t")
    lo, hi = Y_DOMAINS[name]
    xs = alt.Scale(domain=X_DOMAIN, nice=False, zero=False)
    ys = alt.Scale(domain=[lo, hi], nice=False, zero=False)
    last = i == len(DETECTORS) - 1
    if last:
        xaxis = alt.Axis(values=X_LABELS, format="d", ticks=False, tickSize=0, domain=False,
                         grid=False, labelFontSize=15, labelPadding=6, labelFont=FONT,
                         labelColor="black", title=X_TITLE, titleFontSize=17, titleFont=FONT,
                         titleColor="black", titleFontWeight="normal", titlePadding=15)
    else:
        xaxis = None
    yaxis = alt.Axis(values=Y_LABELS[name], format="d", ticks=False, tickSize=0, domain=False,
                     grid=False, labelFontSize=15, labelFont=FONT, labelColor="black",
                     labelPadding=14, labelOverlap=False, labelBaseline="middle", title=None,
                     minExtent=60, maxExtent=60)
    line = alt.Chart(df).mark_line(color="black", strokeWidth=1.6, clip=True,
                                   strokeJoin="miter").encode(
        x=alt.X("t:Q", scale=xs, axis=xaxis),
        y=alt.Y("v:Q", scale=ys, axis=yaxis),
    )
    layers = [line]
    ymaj = pd.DataFrame({"v": steps(lo - 1, hi + 1, Y_MAJOR_STEP[name])})
    ymin = pd.DataFrame({"v": steps(lo, hi, Y_MINOR_STEP[name])})
    for d, ln in ((ymaj, MAJ), (ymin, MIN)):
        for x0, x1 in ((0, ln), (W, W - ln)):
            layers.append(alt.Chart(d).mark_rule(color="black", strokeWidth=1).encode(
                y=alt.Y("v:Q", scale=ys, axis=yaxis),
                x=alt.value(x0), x2=alt.value(x1)))
    xmaj = pd.DataFrame({"t": X_LABELS})
    xmin = pd.DataFrame({"t": X_MINOR})
    for d, ln in ((xmaj, XMAJ), (xmin, XMIN)):
        for y0, y1 in ((0, ln), (H, H - ln)):
            layers.append(alt.Chart(d).mark_rule(color="black", strokeWidth=1).encode(
                x=alt.X("t:Q", scale=xs, axis=xaxis),
                y=alt.value(y0), y2=alt.value(y1)))
    if name == "n4":
        layers.append(alt.Chart(pd.DataFrame({"lab": [name]})).mark_rule(
            color="black", strokeWidth=2.5).encode(
            x=alt.value(0), x2=alt.value(W), y=alt.value(H)))
    layers.append(alt.Chart(pd.DataFrame({"lab": [name]})).mark_text(
        align="left", baseline="middle", fontSize=13, font=FONT, color="black").encode(
        x=alt.value(W + 9), y=alt.value(H / 2 - 2), text="lab:N"))
    if i == 0:
        layers.append(alt.Chart(pd.DataFrame({"lab": [TITLE]})).mark_text(
            align="left", baseline="middle", fontSize=16, font=FONT, color="black").encode(
            x=alt.value(0), y=alt.value(-14), text="lab:N"))
        layers.append(alt.Chart(pd.DataFrame({"lab": ["."]})).mark_text(
            align="left", baseline="top", fontSize=10, opacity=0).encode(
            x=alt.value(-60), y=alt.value(-76), text="lab:N"))
    if last:
        layers.append(alt.Chart(pd.DataFrame({"lab": [FOOTER]})).mark_text(
            align="right", baseline="middle", fontSize=11, font=FONT, color="black").encode(
            x=alt.value(W + 65), y=alt.value(H + 73), text="lab:N"))
    return alt.layer(*layers).properties(width=W, height=H)


panels = [panel(i, n) for i, n in enumerate(DETECTORS)]
chart = alt.vconcat(*panels, spacing=0, bounds="flush").properties(
    padding=0, background="white"
).configure_view(stroke="black", strokeWidth=1)

chart.save("out.html", embed_options={"renderer": "svg", "actions": False})
